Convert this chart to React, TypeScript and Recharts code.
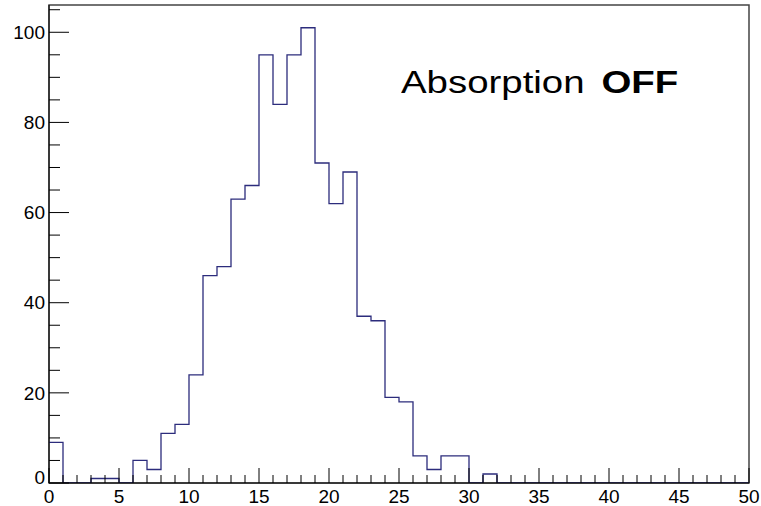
import { ComposedChart, Line, XAxis, YAxis, ReferenceArea } from 'recharts';

// bin lower edges 0..49, counts per unit-width bin
const binEdges = [
  0, 1, 2, 3, 4, 5, 6, 7, 8, 9, 10, 11, 12, 13, 14, 15, 16, 17, 18, 19, 20, 21, 22, 23, 24,
  25, 26, 27, 28, 29, 30, 31, 32, 33, 34, 35, 36, 37, 38, 39, 40, 41, 42, 43, 44, 45, 46, 47, 48, 49,
];
const counts = [
  9, 0, 0, 1, 1, 0, 5, 3, 11, 13, 24, 46, 48, 63, 66, 95, 84, 95, 101, 71, 62, 69, 37, 36, 19,
  18, 6, 3, 6, 6, 0, 2, 0, 0, 0, 0, 0, 0, 0, 0, 0, 0, 0, 0, 0, 0, 0, 0, 0, 0,
];

const xMajor = [0, 5, 10, 15, 20, 25, 30, 35, 40, 45, 50];
const yMajor = [0, 20, 40, 60, 80, 100];
const xTicks = Array.from({ length: 51 }, (_, i) => i);
const yTicks = Array.from({ length: 22 }, (_, i) => i * 5);

const Y_MAX = 106.05;
const LINE = '#2c2c7c';
const FONT = '"Liberation Sans", Arial, sans-serif';

// step points; closing point at the right edge
const data = [
  ...binEdges.map((x, i) => ({ x, n: counts[i] })),
  { x: 50, n: counts[counts.length - 1] },
];

function XTick({ x, y, payload }: any) {
  const major = xMajor.includes(payload.value);
  return (
    <g>
      <line x1={x} x2={x} y1={y} y2={y - (major ? 15 : 8)} stroke="#000" strokeWidth={1} />
      {major && (
        <text x={x} y={y + 20} textAnchor="middle" fontSize={19} fontFamily={FONT} fill="#000">
          {payload.value}
        </text>
      )}
    </g>
  );
}

function YTick({ x, y, payload }: any) {
  const major = yMajor.includes(payload.value);
  return (
    <g>
      <line x1={x} x2={x + (major ? 20 : 11)} y1={y} y2={y} stroke="#000" strokeWidth={1} />
      {major && (
        <text
          x={x - 4}
          y={payload.value === 0 ? y - 6 : y}
          dy="0.355em"
          textAnchor="end"
          fontSize={19}
          fontFamily={FONT}
          fill="#000"
        >
          {payload.value}
        </text>
      )}
    </g>
  );
}

export default function App() {
  return (
    <div style={{ position: 'absolute', left: 0, top: 0, width: 761, height: 506, background: '#fff' }}>
      <ComposedChart
        width={761}
        height={506}
        data={data}
        margin={{ top: 5, right: 12, bottom: 0, left: 0 }}
      >
        <XAxis
          dataKey="x"
          type="number"
          domain={[0, 50]}
          ticks={xTicks}
          interval={0}
          height={23}
          tickSize={0}
          tickMargin={0}
          tick={<XTick />}
          axisLine={{ stroke: '#000' }}
          tickLine={false}
          allowDataOverflow
        />
        <YAxis
          type="number"
          domain={[0, Y_MAX]}
          ticks={yTicks}
          interval={0}
          width={49}
          tickSize={0}
          tickMargin={0}
          tick={<YTick />}
          axisLine={{ stroke: '#000' }}
          tickLine={false}
          allowDataOverflow
        />
        <ReferenceArea
          x1={0}
          x2={50}
          y1={0}
          y2={Y_MAX}
          fill="none"
          stroke="#444"
          strokeWidth={1.5}
          ifOverflow="extendDomain"
        />
        <Line
          type="stepAfter"
          dataKey="n"
          stroke={LINE}
          strokeWidth={1.3}
          dot={false}
          activeDot={false}
          isAnimationActive={false}
        />
      </ComposedChart>
      <div
        style={{
          position: 'absolute',
          left: 401,
          top: 66,
          fontFamily: FONT,
          fontSize: 32,
          lineHeight: '32px',
          color: '#000',
          whiteSpace: 'nowrap',
          transform: 'scaleX(1.2)',
          transformOrigin: 'left top',
        }}
      >
        Absorption<b style={{ marginLeft: 14 }}>OFF</b>
      </div>
    </div>
  );
}
